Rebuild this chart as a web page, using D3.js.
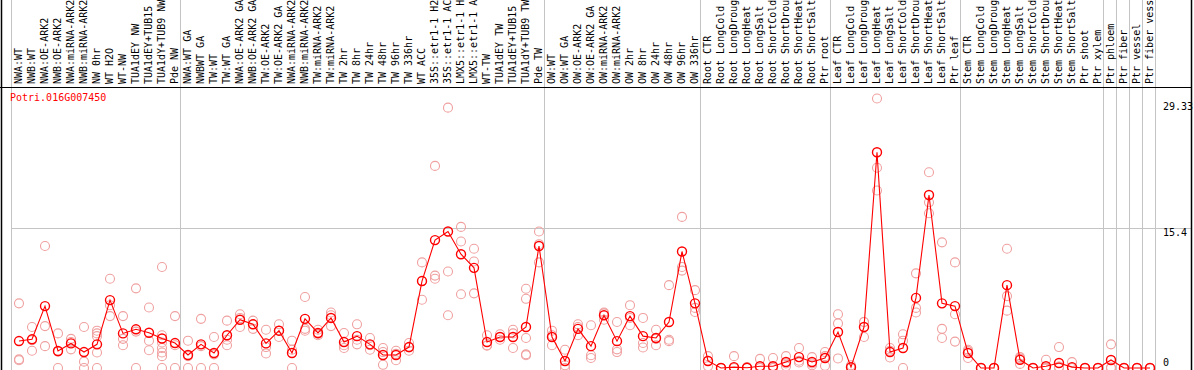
<!DOCTYPE html>
<html>
<head>
<meta charset="utf-8">
<script src="https://cdn.jsdelivr.net/npm/d3@7"></script>
<style>
  body { margin: 0; background: #fff; }
  text { font-family: "DejaVu Sans Mono", monospace; font-size: 10px; }
</style>
</head>
<body>
<div></div>
<script>
var width = 1194, height = 370;

var geneName = "Potri.016G007450";

var samples = [
  "NWA:WT", "NWB:WT", "NWA:OE-ARK2", "NWB:OE-ARK2", "NWA:miRNA-ARK2", "NWB:miRNA-ARK2",
  "NW 0hr", "WT H2O", "WT-NW", "TUA1dEY NW", "TUA1dEY+TUB15", "TUA1dY+TUB9 NW", "Pde NW",
  "NWA:WT GA", "NWBWT GA", "TW:WT", "TW:WT GA", "NWA:OE-ARK2 GA", "NWB:OE-ARK2 GA",
  "TW:OE-ARK2", "TW:OE-ARK2 GA", "NWA:miRNA-ARK2", "NWB:miRNA-ARK2", "TW:miRNA-ARK2",
  "TW:miRNA-ARK2", "TW 2hr", "TW 8hr", "TW 24hr", "TW 48hr", "TW 96hr", "TW 336hr",
  "WT ACC", "35S::etr1-1 H2", "35S::etr1-1 AC", "LMX5::etr1-1 H", "LMX5::etr1-1 A",
  "WT-TW", "TUA1dEY TW", "TUA1dEY+TUB15", "TUA1dY+TUB9 TW", "Pde TW",
  "OW:WT", "OW:WT GA", "OW:OE-ARK2", "OW:OE-ARK2 GA", "OW:miRNA-ARK2", "OW:miRNA-ARK2",
  "OW 2hr", "OW 8hr", "OW 24hr", "OW 48hr", "OW 96hr", "OW 336hr",
  "Root CTR", "Root LongCold", "Root LongDroug", "Root LongHeat", "Root LongSalt",
  "Root ShortCold", "Root ShortDrou", "Root ShortHeat", "Root ShortSalt", "Ptr root",
  "Leaf CTR", "Leaf LongCold", "Leaf LongDroug", "Leaf LongHeat", "Leaf LongSalt",
  "Leaf ShortCold", "Leaf ShortDrou", "Leaf ShortHeat", "Leaf ShortSalt", "Ptr leaf",
  "Stem CTR", "Stem LongCold", "Stem LongDroug", "Stem LongHeat", "Stem LongSalt",
  "Stem ShortCold", "Stem ShortDrou", "Stem ShortHeat", "Stem ShortSalt", "Ptr shoot",
  "Ptr xylem", "Ptr phloem", "Ptr fiber", "Ptr vessel", "Ptr fiber vess"
];

// column index where a separator line is drawn
var separators = [0, 13, 41, 53, 63, 73, 84, 85, 86, 87, 88];

// mean expression per sample
var means = [
  2.96, 3.15, 6.8, 1.87, 2.7, 1.75, 2.6, 7.46, 3.8, 4.25, 3.87, 3.24, 2.74,
  1.43, 2.6, 1.65, 3.6, 5.3, 4.8, 2.7, 4.1, 1.65, 5.4, 3.85, 5.5, 2.85, 3.5, 2.6,
  1.43, 1.43, 2.3, 9.55, 14.05, 15.0, 12.5, 11.0, 2.85, 3.4, 3.4, 4.5, 13.4,
  3.4, 0.77, 4.3, 2.4, 5.8, 2.95, 5.7, 3.5, 3.3, 5.05, 12.8, 7.1,
  0.77, 0, 0.1, 0.03, 0.2, 0.2, 0.66, 1.2, 0.66, 1.1,
  3.95, 0.1, 4.5, 23.7, 1.75, 2.2, 7.7, 19.0, 7.1, 6.8,
  1.65, 0, 0, 9.1, 0.9, 0, 0.2, 0.55, 0.1, 0, 0,
  0.88, 0, 0, 0
];

// individual replicate values per sample
var replicates = [
  [7.1, 0.95, 0.85], [4.5, 1.9, 3.05], [13.4, 4.6, 2.4], [3.8, 0, 1.8],
  [3.2, 2.05, 2.85], [4.5, 0.7, 0], [4.1, 3.8, 3.5, 1.7, 0], [9.8, 5.7, 6.9],
  [5.7, 3.2, 2.5], [8.75, 4.0, 0], [6.65, 3.0, 1.95], [11.1, 3.6, 2.8, 2.2, 1.7, 1.3, 0],
  [5.7, 2.5, 0],
  [3.0, 1.3, 0], [5.4, 2.4, 0], [3.4, 1.5, 0], [5.2, 2.5, 3.1], [5.9, 4.5, 5.5],
  [5.2, 4.3, 4.8], [4.2, 2.3, 1.6], [4.8, 3.4, 4.1], [3.0, 2.0, 0], [7.8, 4.3, 4.1],
  [3.6, 4.2, 3.75], [6.1, 4.6, 5.8], [2.5, 2.2, 3.85], [3.1, 2.6, 4.8], [3.3, 2.0, 2.5],
  [2.2, 1.75, 0.35], [1.55, 1.9, 0.85], [1.9, 2.75, 2.25], [11.6, 7.5, 9.55],
  [22.2, 9.8, 10.15], [28.6, 10.6, 5.8], [15.5, 13.9, 8.1], [13.1, 11.7, 8.2],
  [3.6, 2.5, 2.45], [3.7, 3.1, 3.4], [2.2, 4.2, 3.8], [8.7, 7.6, 3.3, 1.5, 1.4],
  [15.0, 13.6, 11.6],
  [3.6, 4.1, 2.5], [2.0, 0, 0.3], [4.5, 3.6, 4.8], [4.7, 1.4, 1.1], [6.0, 5.3, 6.1],
  [5.05, 1.75, 2.05], [6.9, 4.7, 5.5], [5.5, 2.75, 2.25], [4.2, 2.5, 3.2],
  [9.1, 3.1, 2.95], [16.6, 11.1, 10.7], [8.55, 6.15, 6.6],
  [1.3, 0.2, 0.8], [0, 0, 0], [1.3, 0, 0], [0.1, 0, 0], [1.0, 0, 0], [1.1, 0, 0],
  [1.3, 0.5, 0.2], [2.2, 0.8, 0.6], [1.2, 0.5, 0.3], [1.75, 1.3, 0.25],
  [5.9, 4.9, 1.05], [0.3, 0, 0], [5.05, 3.4, 5.05], [29.6, 22.0, 19.5],
  [2.2, 1.9, 1.15], [3.7, 3.0, 0], [10.4, 6.6, 6.1], [21.5, 18.2, 17.0],
  [13.8, 4.3, 3.3], [11.6, 5.9, 2.9],
  [2.0, 1.1, 1.85], [0, 0, 0], [0, 0, 0], [13.1, 7.9, 6.3], [1.2, 0.45, 1.05],
  [0, 0, 0], [0.9, 0, 0], [2.3, 0.15, 0], [0.65, 0, 0], [0, 0, 0], [0, 0, 0],
  [2.6, 0.05, 0], [0, 0, 0], [0, 0, 0], [0, 0, 0]
];

var yTicks = [0, 15.4, 29.33];

var x = d3.scaleLinear()
    .domain([0, samples.length])
    .range([11, 1155]);

var y = d3.scaleLinear()
    .domain([0, 29.33])
    .range([368, 101]);

function cx(i) { return x(i) + 8; }

var svg = d3.select("div").append("svg")
    .attr("width", width)
    .attr("height", height)
    .style("display", "block");

// column separators
svg.append("g")
  .selectAll("line")
    .data(separators)
  .enter().append("line")
    .attr("x1", function(d) { return Math.round(x(d)) + 0.5; })
    .attr("x2", function(d) { return Math.round(x(d)) + 0.5; })
    .attr("y1", 0)
    .attr("y2", height)
    .style("stroke", "#c4c4c4")
    .style("stroke-width", 1);

// middle gridline
svg.append("line")
    .attr("x1", x(0)).attr("x2", 1192)
    .attr("y1", Math.round(y(15.4)) + 0.5).attr("y2", Math.round(y(15.4)) + 0.5)
    .style("stroke", "#c4c4c4");

// frame
svg.append("line")
    .attr("x1", 0).attr("x2", 1192).attr("y1", 87.5).attr("y2", 87.5)
    .style("stroke", "#000");
svg.append("line")
    .attr("x1", 1.5).attr("x2", 1.5).attr("y1", 0).attr("y2", height)
    .style("stroke", "#000").style("stroke-width", 1.5);
svg.append("line")
    .attr("x1", 1191.5).attr("x2", 1191.5).attr("y1", 0).attr("y2", height)
    .style("stroke", "#000").style("stroke-width", 1.5);

// sample labels
svg.append("g")
  .selectAll("text")
    .data(samples)
  .enter().append("text")
    .attr("transform", function(d, i) { return "translate(" + (x(i) + 10.5) + ",84) rotate(-90)"; })
    .text(function(d) { return d; });

// y labels
svg.append("g")
  .selectAll("text")
    .data(yTicks)
  .enter().append("text")
    .attr("x", 1163)
    .attr("y", function(d) { return Math.min(y(d) + 8.5, 366); })
    .text(function(d) { return d; });

// gene name
svg.append("text")
    .attr("x", 10)
    .attr("y", 100.5)
    .style("fill", "#f00")
    .text(geneName);

// replicate points
var reps = [];
replicates.forEach(function(r, i) {
  r.forEach(function(v) { reps.push({i: i, v: v}); });
});

svg.append("g")
  .selectAll("circle")
    .data(reps)
  .enter().append("circle")
    .attr("cx", function(d) { return cx(d.i); })
    .attr("cy", function(d) { return y(d.v); })
    .attr("r", 4.5)
    .style("fill", "none")
    .style("stroke", "#f0a0a0")
    .style("stroke-width", 1.1);

// mean line
var line = d3.line()
    .x(function(d, i) { return cx(i); })
    .y(function(d) { return y(d); });

svg.append("path")
    .datum(means)
    .attr("d", line)
    .style("fill", "none")
    .style("stroke", "#f00")
    .style("stroke-width", 1.1);

svg.append("g")
  .selectAll("circle")
    .data(means)
  .enter().append("circle")
    .attr("cx", function(d, i) { return cx(i); })
    .attr("cy", function(d) { return y(d); })
    .attr("r", 4.5)
    .style("fill", "none")
    .style("stroke", "#f00")
    .style("stroke-width", 1.4);
</script>
</body>
</html>
